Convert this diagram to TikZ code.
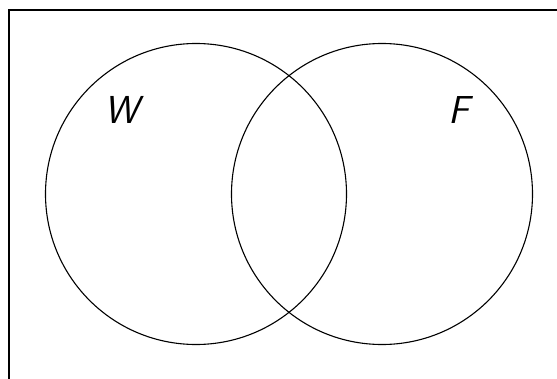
\documentclass[tikz,border=0pt]{standalone}
\usepackage{tikz}
\usetikzlibrary{positioning}

\begin{document}
\begin{tikzpicture}[x=1pt,y=1pt,line width=1.1pt]

\useasboundingbox (0,0) rectangle (557,-378);

% --- universe frame (runs off the page) ---
\begin{scope}
  \clip (0,0) rectangle (557,-378);
  \draw (9,-10) rectangle (600,-420);
\end{scope}

% --- the two sets ---
\node[circle,draw,inner sep=0pt,minimum size=301pt] (wset) at (196,-194) {};
\node[circle,draw,inner sep=0pt,minimum size=301pt] (fset) at (382,-194) {};

\node[font=\fontsize{39}{42}\selectfont\sffamily\itshape] (wlab) at (122,-110) {W};
\node[font=\fontsize{39}{42}\selectfont\sffamily\itshape] (flab) at (459,-110) {F};

\end{tikzpicture}
\end{document}
